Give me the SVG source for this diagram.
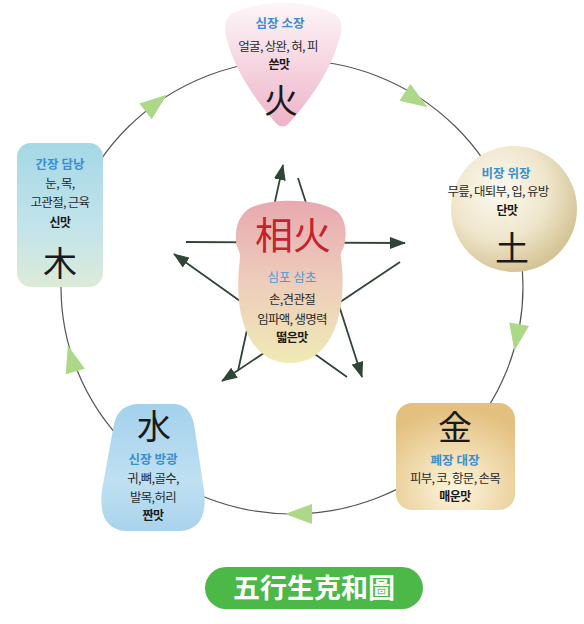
<svg xmlns="http://www.w3.org/2000/svg" width="584" height="624" viewBox="0 0 584 624">
<defs>
<style>
text{font-family:"Noto Sans CJK KR","Noto Sans",sans-serif;text-anchor:middle;fill:#2a2a2a}
.b{font-size:12.5px;letter-spacing:-0.7px}
.lbl{font-size:12.5px;font-weight:bold;fill:#3a8fd0}
.taste{font-size:12px;font-weight:bold;fill:#1a1a1a;letter-spacing:-0.5px}
.han{font-size:34px;fill:#1a1a1a}
.star{stroke:#2f4536;stroke-width:1.8;fill:none;marker-end:url(#ah)}
.tri{fill:#acd888}
</style>
<marker id="ah" viewBox="0 0 16 12" markerWidth="16" markerHeight="12" refX="15" refY="6" orient="auto" markerUnits="userSpaceOnUse">
<path d="M0,0 L16,6 L0,12 z" fill="#2f4536"/>
</marker>
<linearGradient id="gFire" x1="0" y1="0" x2="0" y2="1">
<stop offset="0" stop-color="#fdf6f9"/><stop offset="1" stop-color="#eeb3c8"/>
</linearGradient>
<radialGradient id="gEarth" cx="0.38" cy="0.35" r="0.7">
<stop offset="0" stop-color="#fcf9ef"/><stop offset="0.55" stop-color="#efe6cc"/><stop offset="1" stop-color="#d2c08f"/>
</radialGradient>
<linearGradient id="gWood" x1="0" y1="0" x2="0" y2="1">
<stop offset="0" stop-color="#a5d8e6"/><stop offset="0.6" stop-color="#c3e4ea"/><stop offset="1" stop-color="#dcebd7"/>
</linearGradient>
<radialGradient id="gMetal" cx="0.5" cy="0.8" r="0.75">
<stop offset="0" stop-color="#fdf6de"/><stop offset="1" stop-color="#e3c07f"/>
</radialGradient>
<linearGradient id="gWater" x1="0" y1="0" x2="0" y2="1">
<stop offset="0" stop-color="#a3d1ec"/><stop offset="0.6" stop-color="#bfe0f2"/><stop offset="1" stop-color="#a9d3ec"/>
</linearGradient>
<linearGradient id="gCenter" x1="0" y1="0" x2="0" y2="1">
<stop offset="0" stop-color="#e8a9b0"/><stop offset="0.5" stop-color="#edcdbb"/><stop offset="1" stop-color="#efeab4"/>
</linearGradient>
</defs>
<rect width="584" height="624" fill="#ffffff"/>

<g id="connectors">
<ellipse cx="292" cy="287" rx="231" ry="227" fill="none" stroke="#555" stroke-width="1.2"/>
<polygon class="tri" points="15,0 -12,-10 -12,10" transform="translate(155,104) rotate(-38)"/>
<polygon class="tri" points="15,0 -12,-10 -12,10" transform="translate(415,99) rotate(33)"/>
<polygon class="tri" points="15,0 -12,-10 -12,10" transform="translate(517,336) rotate(100)"/>
<polygon class="tri" points="15,0 -12,-10 -12,10" transform="translate(300,514) rotate(180)"/>
<polygon class="tri" points="15,0 -12,-10 -12,10" transform="translate(72,360) rotate(-106)"/>
<line class="star" x1="186" y1="242" x2="405" y2="243"/>
<line class="star" x1="298" y1="178" x2="362" y2="377"/>
<line class="star" x1="400" y1="262" x2="222" y2="381"/>
<line class="star" x1="347" y1="377" x2="174" y2="254"/>
<line class="star" x1="238" y1="371" x2="283" y2="165"/>
</g>

<g id="fire">
<path d="M231,14 C260,-1 305,-1 335,14 C343,20 343,30 339,40 C331,70 310,100 290,122 C285,128 280,128 275,122 C255,100 235,70 227,40 C224,30 224,20 231,14 Z" fill="url(#gFire)"/>
<text class="lbl" x="280" y="28">심장 소장</text>
<text class="b" x="278" y="51">얼굴, 상완, 혀, 피</text>
<text class="taste" x="279" y="69">쓴맛</text>
<text class="han" x="281" y="113">火</text>
</g>

<g id="earth">
<circle cx="514" cy="209" r="63" fill="url(#gEarth)"/>
<text class="lbl" x="506" y="178">비장 위장</text>
<text class="b" x="498" y="196">무릎, 대퇴부, 입, 유방</text>
<text class="taste" x="507" y="215">단맛</text>
<text class="han" x="512" y="261">土</text>
</g>

<g id="wood">
<rect x="17" y="143" width="86" height="144" rx="14" fill="url(#gWood)"/>
<text class="lbl" x="60" y="169">간장 담낭</text>
<text class="b" x="60" y="188">눈, 목,</text>
<text class="b" x="60" y="207">고관절, 근육</text>
<text class="taste" x="60" y="227">신맛</text>
<text class="han" x="60" y="276">木</text>
</g>

<g id="metal">
<rect x="396" y="403" width="119" height="107" rx="16" fill="url(#gMetal)"/>
<text class="han" x="455" y="440">金</text>
<text class="lbl" x="455" y="465">폐장 대장</text>
<text class="b" x="455" y="483">피부, 코, 항문, 손목</text>
<text class="taste" x="455" y="501">매운맛</text>
</g>

<g id="water">
<path d="M140,404 L172,404 C186,404 191,412 194,424 L204,490 C207,515 200,530 180,531 L126,531 C106,530 99,515 102,490 L114,424 C117,412 124,404 140,404 Z" fill="url(#gWater)"/>
<text class="han" x="154" y="439">水</text>
<text class="lbl" x="153" y="464">신장 방광</text>
<text class="b" x="153" y="483">귀,뼈,골수,</text>
<text class="b" x="153" y="502">발목,허리</text>
<text class="taste" x="153" y="520">짠맛</text>
</g>

<g id="center">
<path d="M250,208 C270,198 315,198 335,210 C345,216 348,232 344,246 C343,250 340,252 341,258 C345,290 342,320 328,342 C318,357 305,363 290,363 C275,363 262,357 252,342 C238,320 236,290 240,258 C241,252 236,248 236,240 C235,226 240,214 250,208 Z" fill="url(#gCenter)"/>
<text x="293" y="249" style="font-size:38px;fill:#c4222c">相火</text>
<text class="lbl" x="292" y="282" style="font-weight:normal;fill:#4a9ad4">심포 삼초</text>
<text class="b" x="292" y="304">손,견관절</text>
<text class="b" x="292" y="324">임파액, 생명력</text>
<text class="taste" x="292" y="342">떫은맛</text>
</g>

<g id="title">
<rect x="205" y="567" width="218" height="42" rx="21" fill="#4cb848"/>
<text x="314" y="598" style="font-size:27px;font-weight:bold;fill:#ffffff">五行生克和圖</text>
</g>
</svg>
